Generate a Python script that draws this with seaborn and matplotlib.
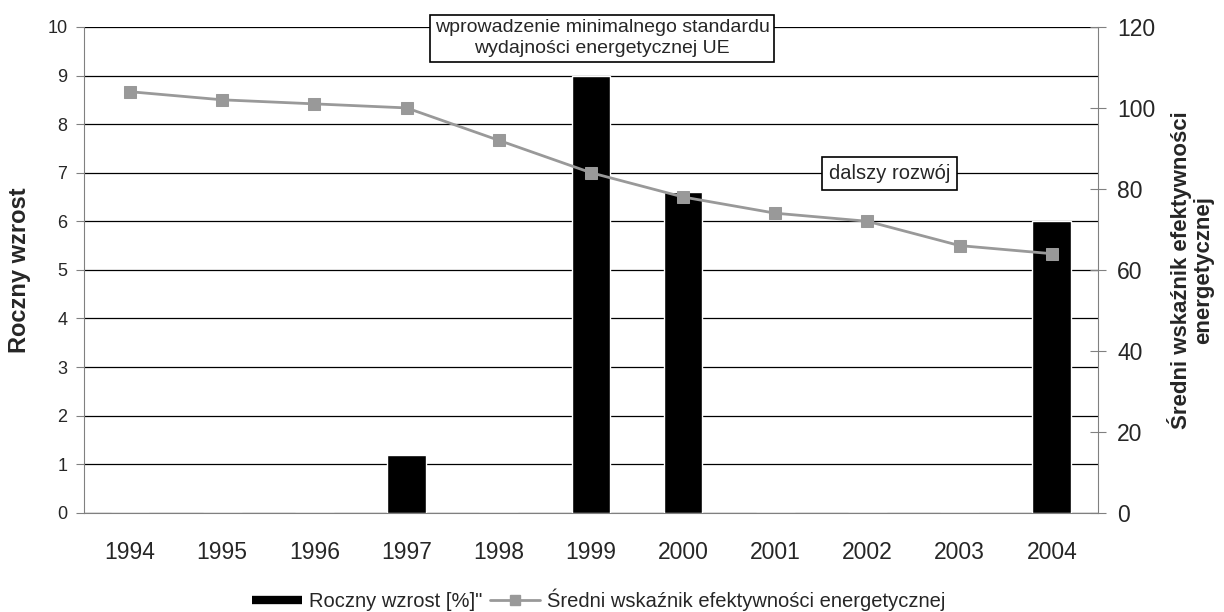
import numpy as np
import pandas as pd
import matplotlib
matplotlib.use('Agg')
import matplotlib.pyplot as plt
import seaborn as sns
from matplotlib.lines import Line2D

# dane ========================================================================
lata = ['1994', '1995', '1996', '1997', '1998', '1999', '2000', '2001', '2002', '2003', '2004']
wzrost = [0, 0, 0, 1.2, 0, 9, 6.6, 0, 0, 0, 6]
wskaznik = [104, 102, 101, 100, 92, 84, 78, 74, 72, 66, 64]

sns.set_style('white')
plt.rcParams['font.family'] = ['Liberation Sans', 'DejaVu Sans']

df = pd.DataFrame({'rok': lata, 'wzrost': wzrost, 'wskaznik': wskaznik})

fig = plt.figure(figsize=(12.24, 6.12), dpi=100)
ax = fig.add_axes([0.0686, 0.162, 0.8284, 0.794])

# słupki
sns.barplot(data=df, x='rok', y='wzrost', color='black', width=0.42,
            saturation=1, ax=ax, zorder=3)
ax.set_ylim(0, 10)
ax.set_xlim(-0.5, len(lata) - 0.5)
ax.set_yticks(range(0, 11))
ax.yaxis.grid(True, color='black', linewidth=0.9)
ax.set_axisbelow(True)
ax.set_xlabel('')
ax.set_ylabel('Roczny wzrost', fontsize=17, fontweight='bold', labelpad=12)
ax.tick_params(axis='y', labelsize=13, length=6, color='gray', direction='out', pad=6)
ax.set_xticks(range(len(lata)))
ax.set_xticklabels(lata, fontsize=16.5)
ax.tick_params(axis='x', length=0, pad=20)
# znaczniki między kategoriami
ax.set_xticks(np.arange(len(lata) + 1) - 0.5, minor=True)
ax.tick_params(axis='x', which='minor', length=6, color='gray', direction='out')
for s in ['top', 'right']:
    ax.spines[s].set_visible(False)
for s in ['left', 'bottom']:
    ax.spines[s].set_color('gray')

# linia na drugiej osi
ax2 = ax.twinx()
sns.lineplot(x=np.arange(len(lata)), y=wskaznik, ax=ax2, color='#999999',
             linewidth=2, marker='s', markersize=9, markeredgecolor='#999999',
             markerfacecolor='#999999', zorder=4)
ax2.set_ylim(0, 120)
ax2.set_yticks(range(0, 121, 20))
ax2.tick_params(axis='y', labelsize=16.5, length=12, color='gray', direction='inout', pad=8)
ax2.set_ylabel('Średni wskaźnik efektywności\nenergetycznej', fontsize=16,
               fontweight='bold', labelpad=8, linespacing=1.1)
for s in ['top', 'left', 'bottom']:
    ax2.spines[s].set_visible(False)
ax2.spines['right'].set_color('gray')

# adnotacje
box = dict(boxstyle='square,pad=0.25', facecolor='white', edgecolor='black', linewidth=1.2)
ax.text(5.12, 9.77, 'wprowadzenie minimalnego standardu\nwydajności energetycznej UE',
        ha='center', va='center', fontsize=14, bbox=box, zorder=5, linespacing=1.25)
ax.text(8.24, 6.98, 'dalszy rozwój', ha='center', va='center', fontsize=14.5,
        bbox=dict(boxstyle='square,pad=0.35', facecolor='white', edgecolor='black',
                  linewidth=1.2), zorder=5)

# legenda
uchwyty = [Line2D([0], [0], color='black', linewidth=6, solid_capstyle='butt'),
           Line2D([0], [0], color='#999999', linewidth=2, marker='s', markersize=7)]
fig.legend(uchwyty, ['Roczny wzrost [%]"', 'Średni wskaźnik efektywności energetycznej'],
           loc='center', bbox_to_anchor=(0.489, 0.02), ncol=2, frameon=False,
           fontsize=14.5, handlelength=2.5, handletextpad=0.35, columnspacing=0.35)

fig.savefig('out.png', dpi=100)
